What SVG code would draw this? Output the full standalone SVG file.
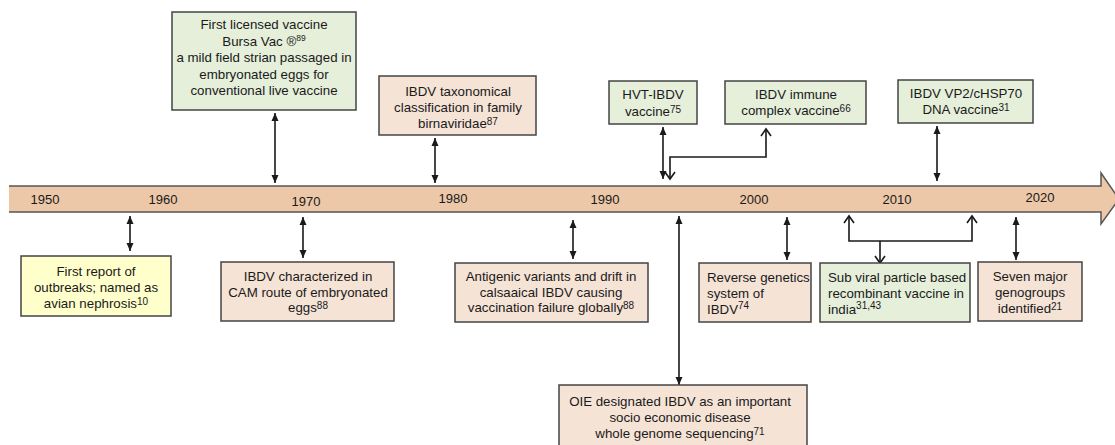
<svg xmlns="http://www.w3.org/2000/svg" width="1115" height="445" viewBox="0 0 1115 445">
<style>
text{font-family:"Liberation Sans",Arial,sans-serif;font-size:13.3px;fill:#1a1a1a}
.c{text-anchor:middle}
.yr{font-size:13px;text-anchor:middle}
.sup{font-size:10px}
.sm{font-size:8.5px}
.box{stroke:#444;stroke-width:1.5}
.peach{fill:#F5E3D6}
.green{fill:#E5EFDA}
.yellow{fill:#FFFFCC}
.ln{fill:none;stroke:#1a1a1a;stroke-width:1.6}
</style>
<defs>
<marker id="fa" markerUnits="userSpaceOnUse" markerWidth="8" markerHeight="8" viewBox="0 0 8 8" refX="8" refY="4" orient="auto-start-reverse">
<path d="M0,0.5 L8,4 L0,7.5 z" fill="#1a1a1a"/>
</marker>
<marker id="oa" markerUnits="userSpaceOnUse" markerWidth="10" markerHeight="12" viewBox="0 0 10 12" refX="8" refY="6" orient="auto-start-reverse">
<path d="M1,1 L8,6 L1,11" fill="none" stroke="#1a1a1a" stroke-width="1.6"/>
</marker>
</defs>

<g id="timeline">
<polygon points="9,186 1101,186 1101,173 1119,199 1101,224 1101,212 9,212" fill="#ECC7A8"/>
<polyline points="9,186 1101,186 1101,173 1119,199 1101,224 1101,212 9,212" fill="none" stroke="#555" stroke-width="1.5"/>
<text class="yr" x="45" y="204">1950</text>
<text class="yr" x="163" y="204">1960</text>
<text class="yr" x="306" y="206">1970</text>
<text class="yr" x="453" y="203">1980</text>
<text class="yr" x="605" y="204">1990</text>
<text class="yr" x="754" y="204">2000</text>
<text class="yr" x="897" y="204">2010</text>
<text class="yr" x="1040" y="202">2020</text>
</g>

<g id="connectors">
<line class="ln" x1="130" y1="216" x2="130" y2="251" marker-start="url(#fa)" marker-end="url(#fa)"/>
<line class="ln" x1="275" y1="113" x2="275" y2="183" marker-start="url(#fa)" marker-end="url(#fa)"/>
<line class="ln" x1="303" y1="217" x2="303" y2="258" marker-start="url(#fa)" marker-end="url(#fa)"/>
<line class="ln" x1="435" y1="138" x2="435" y2="183" marker-start="url(#fa)" marker-end="url(#fa)"/>
<line class="ln" x1="573" y1="220" x2="573" y2="259" marker-start="url(#fa)" marker-end="url(#fa)"/>
<line class="ln" x1="663" y1="127" x2="663" y2="179" marker-start="url(#fa)" marker-end="url(#fa)"/>
<path class="ln" d="M670,179 L670,157 L766,157 L766,129" marker-start="url(#oa)" marker-end="url(#oa)"/>
<line class="ln" x1="679" y1="216" x2="679" y2="385" marker-start="url(#fa)" marker-end="url(#fa)"/>
<line class="ln" x1="787" y1="217" x2="787" y2="260" marker-start="url(#fa)" marker-end="url(#fa)"/>
<line class="ln" x1="937" y1="126" x2="937" y2="181" marker-start="url(#fa)" marker-end="url(#fa)"/>
<path class="ln" d="M849,216 L849,241 L972,241 L972,216" marker-start="url(#oa)" marker-end="url(#oa)"/>
<path class="ln" d="M880,241 L880,263" marker-end="url(#oa)"/>
<line class="ln" x1="1016" y1="217" x2="1016" y2="260" marker-start="url(#fa)" marker-end="url(#fa)"/>
</g>

<g id="n-first-licensed">
<rect class="box green" x="172" y="12" width="184" height="98"/>
<text class="c" x="264" y="29">First licensed vaccine</text>
<text class="c" x="264" y="46">Bursa Vac ®<tspan class="sm" dy="-5">89</tspan></text>
<text class="c" x="264" y="62">a mild field strian passaged in</text>
<text class="c" x="264" y="79">embryonated eggs for</text>
<text class="c" x="264" y="95">conventional live vaccine</text>
</g>

<g id="n-taxonomical">
<rect class="box peach" x="379" y="76" width="157" height="59"/>
<text class="c" x="458" y="96">IBDV taxonomical</text>
<text class="c" x="458" y="112">classification in family</text>
<text class="c" x="458" y="128">birnaviridae<tspan class="sup" dy="-3">87</tspan></text>
</g>

<g id="n-hvt">
<rect class="box green" x="609" y="81" width="88" height="43"/>
<text class="c" x="653" y="99">HVT-IBDV</text>
<text class="c" x="653" y="116">vaccine<tspan class="sup" dy="-3">75</tspan></text>
</g>

<g id="n-immune-complex">
<rect class="box green" x="725" y="81" width="141" height="43"/>
<text class="c" x="796" y="99">IBDV immune</text>
<text class="c" x="796" y="115">complex vaccine<tspan class="sup" dy="-3">66</tspan></text>
</g>

<g id="n-vp2">
<rect class="box green" x="898" y="80" width="135" height="43"/>
<text class="c" x="966" y="98">IBDV VP2/cHSP70</text>
<text class="c" x="966" y="114">DNA vaccine<tspan class="sup" dy="-3">31</tspan></text>
</g>

<g id="n-first-report">
<rect class="box yellow" x="21" y="256" width="150" height="60"/>
<text class="c" x="96" y="276">First report of</text>
<text class="c" x="96" y="292">outbreaks; named as</text>
<text class="c" x="96" y="308">avian nephrosis<tspan class="sup" dy="-3">10</tspan></text>
</g>

<g id="n-characterized">
<rect class="box peach" x="221" y="262" width="173" height="59"/>
<text class="c" x="308" y="281">IBDV characterized in</text>
<text class="c" x="308" y="297">CAM route of embryonated</text>
<text class="c" x="308" y="312">eggs<tspan class="sup" dy="-3">88</tspan></text>
</g>

<g id="n-antigenic">
<rect class="box peach" x="455" y="263" width="193" height="59"/>
<text class="c" x="551" y="281">Antigenic variants and drift in</text>
<text class="c" x="551" y="297">calsaaical IBDV causing</text>
<text class="c" x="551" y="312">vaccination failure globally<tspan class="sup" dy="-3">88</tspan></text>
</g>

<g id="n-reverse-genetics">
<rect class="box peach" x="699" y="263" width="112" height="59"/>
<text x="707" y="282">Reverse genetics</text>
<text x="707" y="298">system of</text>
<text x="707" y="314">IBDV<tspan class="sup" dy="-5">74</tspan></text>
</g>

<g id="n-sub-viral">
<rect class="box green" x="820" y="263" width="150" height="59"/>
<text x="828" y="282">Sub viral particle based</text>
<text x="828" y="298">recombinant vaccine in</text>
<text x="828" y="314">india<tspan class="sup" dy="-5">31,43</tspan></text>
</g>

<g id="n-seven-genogroups">
<rect class="box peach" x="978" y="262" width="104" height="59"/>
<text class="c" x="1030" y="281">Seven major</text>
<text class="c" x="1030" y="297">genogroups</text>
<text class="c" x="1030" y="313">identified<tspan class="sup" dy="-3">21</tspan></text>
</g>

<g id="n-oie">
<rect class="box peach" x="559" y="385" width="248" height="66"/>
<text class="c" x="680" y="406">OIE designated IBDV as an important</text>
<text class="c" x="680" y="422">socio economic disease</text>
<text class="c" x="680" y="438">whole genome sequencing<tspan class="sup" dy="-3">71</tspan></text>
</g>
</svg>
